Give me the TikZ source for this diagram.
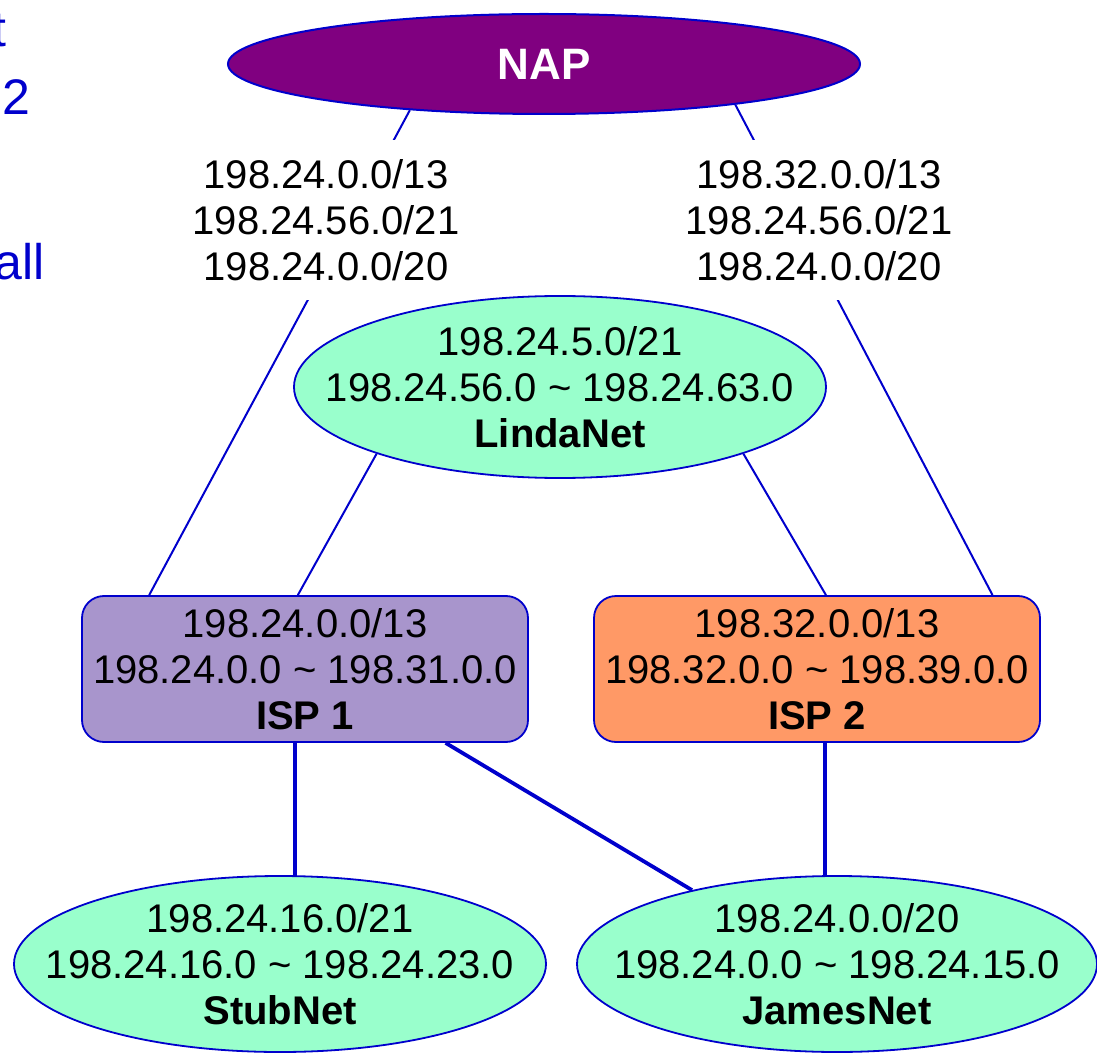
\documentclass[tikz,border=0pt]{standalone}
\usepackage{fontspec}
\setmainfont{Liberation Sans}
\usetikzlibrary{shapes.geometric,backgrounds,calc}
\definecolor{lnblue}{HTML}{0000CC}
\definecolor{napfill}{HTML}{800080}
\definecolor{netfill}{HTML}{99FFCC}
\definecolor{ispa}{HTML}{A895CC}
\definecolor{ispb}{HTML}{FF9966}
\begin{document}
\begin{tikzpicture}[x=0.5pt,y=-0.5pt,
  txt/.style={font=\fontsize{20}{23}\selectfont, align=center},
  napnode/.style={ellipse, draw=lnblue, line width=1pt, fill=napfill, inner sep=0pt,
    minimum width=316pt, minimum height=50pt, text=white, font=\bfseries\fontsize{22}{26}\selectfont},
  netnode/.style={ellipse, draw=lnblue, line width=0.9pt, fill=netfill, inner sep=0pt},
  inlbl/.style={label={[txt, inner sep=0pt]center:{#1}}},
  ispnode/.style={txt, rectangle, rounded corners=11pt, draw=lnblue, line width=0.9pt,
    inner sep=0pt, minimum width=223pt, minimum height=73pt},
  lbl/.style={txt, fill=white, inner sep=0pt, minimum height=80pt},
  sidetxt/.style={text=lnblue, font=\fontsize{25}{30}\selectfont, anchor=base east, inner sep=0pt},
  thinln/.style={draw=lnblue, line width=1pt},
  thickln/.style={draw=lnblue, line width=1.9pt}]
\useasboundingbox (0,0) rectangle (1097,1053);
% cut-off side text
\node[sidetxt] (side1) at (7,47) {t};
\node[sidetxt] (side2) at (30.5,115) {2};
\node[sidetxt] (side3) at (45,280) {all};
% nodes
\node[napnode] (nap) at (544,64) {NAP};
\node[netnode, minimum width=266pt, minimum height=91pt,
  inlbl={198.24.5.0/21\\198.24.56.0 \textasciitilde{} 198.24.63.0\\\textbf{LindaNet}}] (linda) at (560,387) {};
\node[ispnode, fill=ispa] (isp1) at (305,669)
  {198.24.0.0/13\\198.24.0.0 \textasciitilde{} 198.31.0.0\\\textbf{ISP 1}};
\node[ispnode, fill=ispb] (isp2) at (817,669)
  {198.32.0.0/13\\198.32.0.0 \textasciitilde{} 198.39.0.0\\\textbf{ISP 2}};
\node[netnode, minimum width=266pt, minimum height=88pt,
  inlbl={198.24.16.0/21\\198.24.16.0 \textasciitilde{} 198.24.23.0\\\textbf{StubNet}}] (stub) at (280,964) {};
\node[netnode, minimum width=260pt, minimum height=88pt,
  inlbl={198.24.0.0/20\\198.24.0.0 \textasciitilde{} 198.24.15.0\\\textbf{JamesNet}}] (james) at (837,964) {};
\node[lbl] (lblL) at (326,220) {198.24.0.0/13\\198.24.56.0/21\\198.24.0.0/20};
\node[lbl] (lblR) at (819,220) {198.32.0.0/13\\198.24.56.0/21\\198.24.0.0/20};
% connectors
\begin{pgfonlayer}{background}
\draw[thinln] (nap.199) -- ($(isp1.north west)!0.152!(isp1.north east)$);
\draw[thinln] (nap.348) -- ($(isp2.north west)!0.892!(isp2.north east)$);
\draw[thinln] (linda.200) -- ($(isp1.north west)!0.484!(isp1.north east)$);
\draw[thinln] (linda.340) -- ($(isp2.north west)!0.52!(isp2.north east)$);
\coordinate (a1) at ($(isp1.south west)!0.478!(isp1.south east)$);
\draw[thickln] (a1) -- ([yshift=-2pt]a1 |- stub.north);
\draw[thickln] ($(isp1.south west)!0.814!(isp1.south east)$) -- (james.153);
\coordinate (a2) at ($(isp2.south west)!0.518!(isp2.south east)$);
\draw[thickln] (a2) -- ([yshift=-2pt]a2 |- james.north);
\end{pgfonlayer}
\end{tikzpicture}
\end{document}
